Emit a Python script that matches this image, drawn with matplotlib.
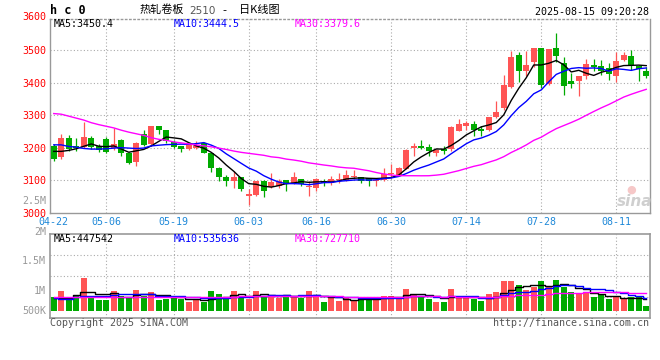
import numpy as np
import pandas as pd
import matplotlib
matplotlib.use("Agg")
import matplotlib.pyplot as plt
from matplotlib.transforms import blended_transform_factory

# ---------------- data ----------------
holidays = ["2025-05-01", "2025-05-02", "2025-05-05", "2025-06-02"]
dates = pd.bdate_range("2025-04-22", "2025-08-15", freq="C",
                       holidays=holidays).strftime("%m-%d").tolist()

open_ = [3206, 3171, 3230, 3205, 3201, 3230, 3207, 3227, 3198, 3223,
         3184, 3156, 3243, 3212, 3266, 3254, 3217, 3204, 3195, 3200,
         3216, 3183, 3139, 3109, 3099, 3109, 3053, 3054, 3099, 3079,
         3084, 3101, 3092, 3103, 3079, 3076, 3098, 3093, 3100, 3101,
         3109, 3111, 3106, 3099, 3101, 3121, 3117, 3136, 3199, 3207,
         3202, 3185, 3195, 3197, 3253, 3266, 3274, 3258, 3254, 3293,
         3321, 3386, 3485, 3436, 3462, 3507, 3397, 3507, 3460, 3406,
         3406, 3419, 3455, 3452, 3446, 3421, 3468, 3482, 3452, 3434]
close = [3166, 3229, 3195, 3200, 3233, 3202, 3194, 3188, 3212, 3185,
         3153, 3215, 3210, 3266, 3254, 3220, 3202, 3195, 3208, 3204,
         3185, 3138, 3109, 3099, 3109, 3074, 3059, 3099, 3069, 3096,
         3097, 3090, 3109, 3090, 3084, 3104, 3093, 3104, 3105, 3116,
         3115, 3099, 3097, 3102, 3121, 3124, 3138, 3193, 3207, 3199,
         3190, 3193, 3190, 3264, 3274, 3276, 3256, 3251, 3293, 3311,
         3394, 3477, 3437, 3455, 3507, 3394, 3503, 3480, 3389, 3397,
         3419, 3458, 3447, 3437, 3427, 3465, 3485, 3450, 3441, 3419]
high = [3212, 3243, 3238, 3229, 3278, 3235, 3212, 3233, 3260, 3228,
        3187, 3217, 3254, 3266, 3266, 3256, 3223, 3205, 3212, 3222,
        3218, 3185, 3142, 3116, 3129, 3109, 3074, 3099, 3101, 3122,
        3104, 3101, 3127, 3104, 3099, 3106, 3104, 3114, 3122, 3131,
        3131, 3111, 3106, 3106, 3137, 3149, 3140, 3197, 3215, 3225,
        3212, 3197, 3207, 3266, 3289, 3281, 3281, 3268, 3294, 3342,
        3422, 3497, 3493, 3497, 3507, 3507, 3503, 3551, 3477, 3429,
        3419, 3473, 3472, 3470, 3460, 3493, 3495, 3500, 3455, 3449]
low = [3158, 3166, 3189, 3189, 3200, 3196, 3187, 3184, 3194, 3176,
       3149, 3145, 3207, 3207, 3243, 3215, 3200, 3187, 3194, 3195,
       3183, 3126, 3099, 3084, 3077, 3066, 3025, 3052, 3050, 3076,
       3076, 3069, 3088, 3083, 3052, 3066, 3084, 3087, 3092, 3098,
       3105, 3092, 3082, 3083, 3099, 3107, 3114, 3134, 3175, 3195,
       3176, 3174, 3182, 3190, 3251, 3254, 3237, 3237, 3253, 3291,
       3315, 3382, 3402, 3419, 3449, 3382, 3394, 3462, 3362, 3384,
       3360, 3411, 3434, 3424, 3409, 3401, 3465, 3439, 3404, 3414]
volume = [535000, 801000, 495000, 588000, 1320000, 535000, 428000, 428000, 801000, 588000,
          535000, 828000, 588000, 761000, 428000, 468000, 535000, 468000, 361000, 428000,
          361000, 801000, 668000, 468000, 801000, 601000, 468000, 801000, 588000, 628000,
          521000, 588000, 601000, 521000, 801000, 601000, 361000, 495000, 401000, 535000,
          401000, 535000, 428000, 535000, 601000, 601000, 535000, 868000, 668000, 601000,
          468000, 361000, 361000, 868000, 601000, 495000, 468000, 388000, 668000, 761000,
          1188000, 1188000, 1028000, 828000, 961000, 1188000, 961000, 1227000, 961000, 761000,
          668000, 695000, 535000, 628000, 468000, 535000, 468000, 535000, 535000, 188000]

# moving-average values before the window is full
ma5_head = [3189, 3189, 3192, 3197]
ma10_head = [3209, 3209, 3204, 3202, 3198, 3196, 3196, 3197, 3199]
ma30_head = [3305, 3303, 3297, 3291, 3285, 3277, 3271, 3266, 3261, 3254,
             3248, 3243, 3238, 3231, 3226, 3223, 3218, 3215, 3212, 3209,
             3206, 3203, 3199, 3195, 3190, 3186, 3183, 3180, 3177]
vma5_head = [520000, 520000, 520000, 628000]
vma10_head = [521000, 480000, 480000, 560000, 588000, 588000, 600000, 600000, 620000]
vma30_head = [535000, 535000, 535000, 535000, 535000, 535000, 535000, 535000, 535000, 535000,
              535000, 535000, 535000, 535000, 548000, 548000, 548000, 548000, 548000, 548000,
              561000, 561000, 561000, 561000, 561000, 575000, 575000, 575000, 588000]

tick_labels = ["04-22", "05-06", "05-19", "06-03", "06-16", "06-30", "07-14", "07-28", "08-11"]
price_ticks = [3000, 3100, 3200, 3300, 3400, 3500]
vol_labels = ["2.5M", "2M", "1.5M", "1M", "500K"]

ma_price_text = ["MA5:3450.4", "MA10:3444.5", "MA30:3379.6"]
ma_vol_text = ["MA5:447542", "MA10:535636", "MA30:727710"]

# ---------------- helpers ----------------
def moving(values, w, head):
    s = pd.Series(values, dtype=float).rolling(w).mean().to_numpy()
    s[:len(head)] = head
    return s

RED = "#ff5555"
GREEN = "#00aa00"
MA_COLORS = ["#000000", "#0000ff", "#ff00ff"]
GRIDC = "#aaaaaa"
MONO = "DejaVu Sans Mono"
FS = 7.2

W, H = 660.0, 360.0
fig = plt.figure(figsize=(6.6, 3.6), dpi=100)
fig.patch.set_facecolor("white")


def rect(l, t, r, b):
    return [l / W, 1 - b / H, (r - l) / W, (b - t) / H]


def ptext(px, py, s, **kw):
    fig.text(px / W, 1 - py / H, s, **kw)


axp = fig.add_axes(rect(50, 19, 650, 213))
axv = fig.add_axes(rect(50, 234, 650, 318))

n = len(dates)
x = np.arange(n)
o = np.array(open_, float)
c = np.array(close, float)
hi = np.array(high, float)
lo = np.array(low, float)
v = np.array(volume, float)
cols = np.where(c >= o, RED, GREEN)

tick_pos = [dates.index(t) for t in tick_labels]
grid_pos = tick_pos[1:]

# ---------------- price panel ----------------
axp.set_xlim(-0.5, n - 0.5)
axp.set_ylim(3000, 3595)
for yv in price_ticks[1:]:
    axp.axhline(yv, color=GRIDC, lw=0.8, linestyle=(0, (1, 2)), zorder=0)
for gx in grid_pos:
    axp.axvline(gx, color=GRIDC, lw=0.8, linestyle=(0, (1, 2)), zorder=0)

axp.vlines(x, lo, hi, colors=cols, lw=0.9, zorder=2)
body_bot = np.minimum(o, c)
body_h = np.maximum(np.abs(c - o), 2.5)
axp.bar(x, body_h, bottom=body_bot, width=0.8, color=cols, linewidth=0, zorder=3)

ma_p = [moving(close, 5, ma5_head), moving(close, 10, ma10_head), moving(close, 30, ma30_head)]
for m, col in zip(ma_p, MA_COLORS):
    axp.plot(x, m, color=col, lw=1.0, zorder=4)

axp.set_yticks(price_ticks)
axp.set_yticklabels([str(t) for t in price_ticks])
axp.set_xticks(tick_pos)
axp.set_xticklabels(tick_labels)
axp.tick_params(axis="both", length=0)
axp.tick_params(axis="y", pad=2.9, labelcolor="#ff0000", labelsize=FS)
axp.tick_params(axis="x", pad=2.6, labelcolor="#1e88d8", labelsize=FS)
for lab in axp.get_xticklabels() + axp.get_yticklabels():
    lab.set_fontfamily(MONO)
trans = blended_transform_factory(axp.transAxes, axp.transData)
axp.text(-4 / 600, 3600, "3600", transform=trans, ha="right", va="center",
         fontsize=FS, family=MONO, color="#ff0000", clip_on=False)

for side, sp in axp.spines.items():
    sp.set_color("#999999")
    sp.set_linewidth(1.0)
axp.spines["top"].set_linestyle((0, (1, 2)))

# ---------------- volume panel ----------------
axv.set_xlim(-0.5, n - 0.5)
axv.set_ylim(-292000, 3068000)
ylo, yhi = axv.get_ylim()
for f in (0.25, 0.5, 0.75):
    axv.axhline(ylo + f * (yhi - ylo), color=GRIDC, lw=0.8, linestyle=(0, (1, 2)), zorder=0)
for gx in grid_pos:
    axv.axvline(gx, color=GRIDC, lw=0.8, linestyle=(0, (1, 2)), zorder=0)
axv.bar(x, v, width=0.8, color=cols, linewidth=0, zorder=2)
ma_v = [moving(volume, 5, vma5_head), moving(volume, 10, vma10_head), moving(volume, 30, vma30_head)]
for m, col in zip(ma_v, MA_COLORS):
    axv.plot(x, m, color=col, lw=1.0, drawstyle="steps-mid", zorder=4)
axv.set_xticks([])
axv.set_yticks([])
for side, sp in axv.spines.items():
    sp.set_color("#999999")
    sp.set_linewidth(1.2)

# volume axis labels (as printed on the chart)
for lab, py in zip(vol_labels, [201, 231.5, 260.5, 290.5, 310.5]):
    ptext(46, py, lab, ha="right", va="center", fontsize=FS, family=MONO, color="#999999")

# ---------------- texts ----------------
for s, px, col in zip(ma_price_text, [54, 174, 295], MA_COLORS):
    ptext(px, 24, s, ha="left", va="center", fontsize=FS, family=MONO, color=col)
for s, px, col in zip(ma_vol_text, [54, 174, 295], MA_COLORS):
    ptext(px, 238.5, s, ha="left", va="center", fontsize=FS, family=MONO, color=col)

ptext(50, 11, "h c 0", ha="left", va="center", fontsize=8.5, family=MONO,
      fontweight="bold", color="#000000")
CJK = ["Noto Sans CJK SC", "DejaVu Sans"]
ptext(140, 10, "热轧卷板", ha="left", va="center", fontsize=8, family=CJK, color="#000000")
ptext(189, 10.5, "2510", ha="left", va="center", fontsize=7.5, family="DejaVu Sans", color="#555555")
ptext(224.5, 10, "-", ha="center", va="center", fontsize=8, family="DejaVu Sans", color="#000000")
ptext(239, 10, "日K线图", ha="left", va="center", fontsize=8, family=CJK, color="#000000")
ptext(649, 12, "2025-08-15 09:20:28", ha="right", va="center", fontsize=FS, family=MONO, color="#000000")

ptext(50, 323, "Copyright 2025 SINA.COM", ha="left", va="center", fontsize=FS, family=MONO, color="#555555")
ptext(649, 323, "http://finance.sina.com.cn", ha="right", va="center", fontsize=FS, family=MONO, color="#555555")

# sina watermark
ptext(631, 190, "●", ha="center", va="center", fontsize=8, family="DejaVu Sans", color="#f6c8c8")
ptext(635, 201, "sina", ha="center", va="center", fontsize=11, family="DejaVu Sans",
      fontstyle="italic", fontweight="bold", color="#cfcfcf")

fig.savefig("out.png", dpi=100, facecolor="white")
